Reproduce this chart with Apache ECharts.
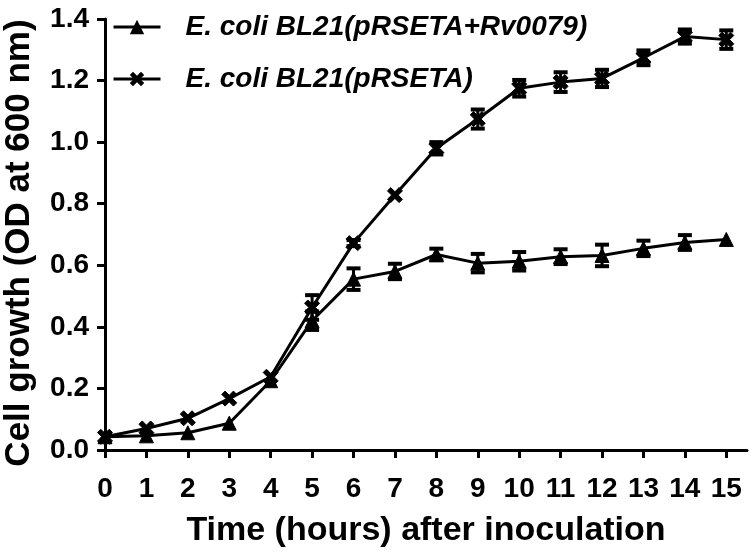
<!DOCTYPE html>
<html>
<head>
<meta charset="utf-8">
<script src="https://cdn.jsdelivr.net/npm/echarts@6/dist/echarts.min.js"></script>
<style>html,body{margin:0;padding:0;background:#fff;}#c{width:755px;height:558px;}</style>
</head>
<body>
<div id="c"></div>
<script>
var hours = [0,1,2,3,4,5,6,7,8,9,10,11,12,13,14,15];
var nameRv = 'E. coli BL21(pRSETA+Rv0079)';
var nameCtl = 'E. coli BL21(pRSETA)';
var rvMean = [0.043,0.046,0.056,0.087,0.225,0.42,0.555,0.58,0.635,0.607,0.613,0.628,0.632,0.655,0.674,0.684];
var rvErr  = [0,0,0,0,0,0.03,0.035,0.025,0.019,0.03,0.03,0.024,0.035,0.025,0.024,0];
var ctlMean = [0.043,0.07,0.103,0.167,0.238,0.463,0.672,0.828,0.98,1.075,1.175,1.195,1.207,1.274,1.343,1.333];
var ctlErr  = [0,0,0,0,0,0.04,0.01,0,0.02,0.031,0.027,0.032,0.028,0.024,0.023,0.03];
var yTicks = [0,0.2,0.4,0.6,0.8,1.0,1.2,1.4];

var FONT = 'Arial, "Liberation Sans", sans-serif';
var crossPath = 'path://M0,2.2 L2.2,0 L5,2.8 L7.8,0 L10,2.2 L7.2,5 L10,7.8 L7.8,10 L5,7.2 L2.2,10 L0,7.8 L2.8,5 Z';

function errData(m, e){
  return hours.map(function(h,i){ return [h, m[i]-e[i], m[i]+e[i], e[i]]; });
}
function errRender(params, api){
  if (api.value(3) <= 0) return null;
  var x = api.value(0);
  var lo = api.coord([x, api.value(1)]);
  var hi = api.coord([x, api.value(2)]);
  var hw = 7;
  return {type:'group', children:[
    {type:'line', shape:{x1:lo[0],y1:lo[1],x2:hi[0],y2:hi[1]}, style:{stroke:'#000', lineWidth:3}},
    {type:'line', shape:{x1:lo[0]-hw,y1:lo[1],x2:lo[0]+hw,y2:lo[1]}, style:{stroke:'#000', lineWidth:4}},
    {type:'line', shape:{x1:hi[0]-hw,y1:hi[1],x2:hi[0]+hw,y2:hi[1]}, style:{stroke:'#000', lineWidth:4}}
  ]};
}

var chart = echarts.init(document.getElementById('c'), null, {renderer:'canvas'});
chart.setOption({
  animation: false,
  backgroundColor: '#fff',
  textStyle: {fontFamily: FONT},
  grid: {left:105, right:8, top:19, bottom:108, containLabel:false, outerBoundsMode:'none'},
  legend: {
    data: [nameRv, nameCtl],
    orient: 'vertical',
    left: 112, top: 13, padding: 0,
    itemWidth: 47, itemHeight: 18, itemGap: 24,
    lineStyle: {width: 3, color: '#000'},
    itemStyle: {color: '#000'},
    textStyle: {fontFamily: FONT, fontSize: 28, fontWeight:'bold', fontStyle:'italic', color:'#000', padding:[0,0,0,20]}
  },
  xAxis: {
    type: 'value', min: 0, max: 15.5, interval: 1,
    name: 'Time (hours) after inoculation', nameLocation: 'middle', nameGap: 64,
    nameTextStyle: {fontFamily: FONT, fontSize: 34, fontWeight:'bold', color:'#000'},
    axisLine: {onZero:false, lineStyle:{color:'#000', width:3}},
    axisTick: {show:true, length:8, inside:false, lineStyle:{color:'#000', width:3}, customValues: hours},
    axisLabel: {fontFamily: FONT, fontSize: 28, fontWeight:'bold', color:'#000', margin: 25, customValues: hours},
    splitLine: {show:false}
  },
  yAxis: {
    type: 'value', min: 0, max: 1.4, interval: 0.2,
    name: 'Cell growth (OD at 600 nm)', nameLocation: 'middle', nameGap: 68, nameRotate: 90,
    nameTextStyle: {fontFamily: FONT, fontSize: 35, fontWeight:'bold', color:'#000', padding:[0,17,0,0]},
    axisLine: {show:true, onZero:false, lineStyle:{color:'#000', width:3}},
    axisTick: {show:true, length:8, lineStyle:{color:'#000', width:3}, customValues: yTicks},
    axisLabel: {fontFamily: FONT, fontSize: 28, fontWeight:'bold', color:'#000', margin: 16,
      customValues: yTicks, formatter: function(v){ return v.toFixed(1); }},
    splitLine: {show:false}
  },
  series: [
    {type:'custom', renderItem: errRender, data: errData(rvMean, rvErr), z: 3, silent:true},
    {type:'custom', renderItem: errRender, data: errData(ctlMean, ctlErr), z: 3, silent:true},
    {
      name: nameRv, type:'line',
      data: hours.map(function(h,i){ return [h, rvMean[i]]; }),
      symbol: 'triangle', symbolSize: 14,
      lineStyle: {color:'#000', width:3},
      itemStyle: {color:'#000', borderColor:'#000'},
      z: 4
    },
    {
      name: nameCtl, type:'line',
      data: hours.map(function(h,i){ return [h, ctlMean[i]]; }),
      symbol: crossPath, symbolSize: 15,
      lineStyle: {color:'#000', width:3},
      itemStyle: {color:'#000', borderColor:'#000'},
      z: 4
    }
  ]
});
</script>
</body>
</html>
